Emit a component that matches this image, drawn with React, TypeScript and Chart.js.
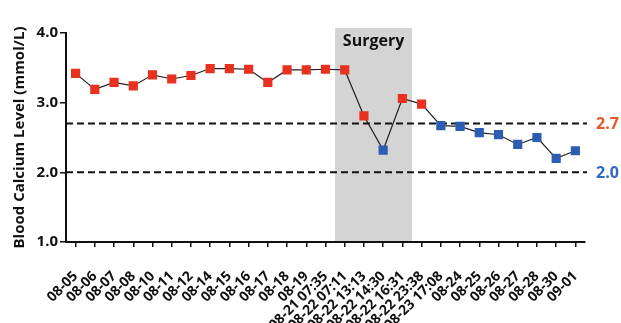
import React, { useEffect, useRef } from "react";
import { Chart, registerables } from "chart.js";

Chart.register(...registerables);

const categories = [
  "08-05", "08-06", "08-07", "08-08", "08-10", "08-11", "08-12", "08-14", "08-15",
  "08-16", "08-17", "08-18", "08-19", "08-21 07:35", "08-22 07:11", "08-22 13:13",
  "08-22 14:30", "08-22 16:31", "08-22 23:38", "08-23 17:08", "08-24", "08-25",
  "08-26", "08-27", "08-28", "08-30", "09-01",
];

const calcium = [
  3.42, 3.19, 3.29, 3.24, 3.40, 3.34, 3.39, 3.49, 3.49,
  3.48, 3.29, 3.47, 3.47, 3.48, 3.47, 2.81,
  2.32, 3.06, 2.98, 2.67, 2.66, 2.57,
  2.54, 2.40, 2.50, 2.20, 2.31,
];

const yTicks = [1.0, 2.0, 3.0, 4.0];
const referenceValues = [2.7, 2.0];
const referenceLabels = ["2.7", "2.0"];
const surgeryStart = "08-22 07:11";
const surgeryEnd = "08-22 16:31";
const surgeryLabel = "Surgery";
const highThreshold = 2.7;

const RED = "#e8321f";
const BLUE = "#2b5db3";
const FONT = "'Open Sans', Lato, sans-serif";

const overlayPlugin = {
  id: "overlay",
  beforeDraw(chart: any) {
    const { ctx, chartArea, scales } = chart;
    const x = scales.x;
    const i0 = categories.indexOf(surgeryStart);
    const i1 = categories.indexOf(surgeryEnd);
    const left = (x.getPixelForValue(i0 - 1) + x.getPixelForValue(i0)) / 2;
    const right = (x.getPixelForValue(i1) + x.getPixelForValue(i1 + 1)) / 2;
    ctx.save();
    ctx.fillStyle = "#d4d4d4";
    ctx.fillRect(left, chartArea.top - 5, right - left, chartArea.bottom - chartArea.top + 5);
    ctx.fillStyle = "#111";
    ctx.font = `bold 16px ${FONT}`;
    ctx.textAlign = "center";
    ctx.textBaseline = "middle";
    ctx.fillText(surgeryLabel, (left + right) / 2, chartArea.top + 8);
    ctx.restore();
  },
  beforeDatasetsDraw(chart: any) {
    const { ctx, chartArea, scales } = chart;
    const y = scales.y;
    ctx.save();
    referenceValues.forEach((v, i) => {
      const py = y.getPixelForValue(v);
      ctx.strokeStyle = "#111";
      ctx.lineWidth = 2;
      ctx.setLineDash([7, 4]);
      ctx.beginPath();
      ctx.moveTo(chartArea.left, py);
      ctx.lineTo(chartArea.right + 2, py);
      ctx.stroke();
      ctx.setLineDash([]);
      ctx.fillStyle = v >= highThreshold ? "#ec552b" : "#2e68c2";
      ctx.font = `bold 16px ${FONT}`;
      ctx.textAlign = "left";
      ctx.textBaseline = "middle";
      ctx.fillText(referenceLabels[i], chartArea.right + 11, py + 1);
    });
    ctx.restore();
  },
};

export default function App() {
  const ref = useRef<HTMLCanvasElement | null>(null);
  useEffect(() => {
    if (!ref.current) return;
    const colors = calcium.map((v) => (v < highThreshold ? BLUE : RED));
    const chart = new Chart(ref.current, {
      type: "line",
      data: {
        labels: categories,
        datasets: [
          {
            data: calcium,
            borderColor: "#222",
            borderWidth: 1.2,
            pointStyle: "rect",
            pointRadius: 6.5,
            pointBackgroundColor: colors,
            pointBorderColor: colors,
            pointBorderWidth: 0,
            tension: 0,
          },
        ],
      },
      options: {
        animation: false,
        responsive: false,
        devicePixelRatio: 1,
        layout: { padding: { top: 33, right: 36, left: 0, bottom: 0 } },
        plugins: { legend: { display: false }, tooltip: { enabled: false } },
        scales: {
          x: {
            type: "category",
            offset: true,
            grid: {
              display: true,
              offset: false,
              drawOnChartArea: false,
              drawTicks: true,
              tickLength: 5,
              color: "#111",
              lineWidth: 1.5,
            },
            border: { display: true, color: "#111", width: 2 },
            ticks: {
              autoSkip: false,
              minRotation: 45,
              maxRotation: 45,
              padding: 21,
              color: "#111",
              font: { family: FONT, size: 14, weight: "bold" },
            },
            afterFit: (scale: any) => {
              scale.height = 81;
            },
          },
          y: {
            min: 1,
            max: 4,
            afterBuildTicks: (scale: any) => {
              scale.ticks = yTicks.map((v) => ({ value: v }));
            },
            grid: {
              display: true,
              drawOnChartArea: false,
              drawTicks: true,
              tickLength: 6,
              color: "#111",
              lineWidth: 1.5,
            },
            border: { display: true, color: "#111", width: 2 },
            ticks: {
              padding: 2,
              color: "#111",
              font: { family: FONT, size: 15, weight: "bold" },
              callback: (v: any) => Number(v).toFixed(1),
            },
            title: {
              display: true,
              text: "Blood Calcium Level (mmol/L)",
              color: "#111",
              font: { family: FONT, size: 15, weight: "bold" },
              padding: { top: 11, bottom: 0 },
            },
            afterFit: (scale: any) => {
              scale.width = 66;
            },
          },
        },
      },
      plugins: [overlayPlugin],
    });
    return () => chart.destroy();
  }, []);
  return (
    <div style={{ position: "fixed", left: 0, top: 0, width: 621, height: 323, background: "#fff" }}>
      <canvas ref={ref} width={621} height={323} style={{ width: 621, height: 323 }} />
    </div>
  );
}
